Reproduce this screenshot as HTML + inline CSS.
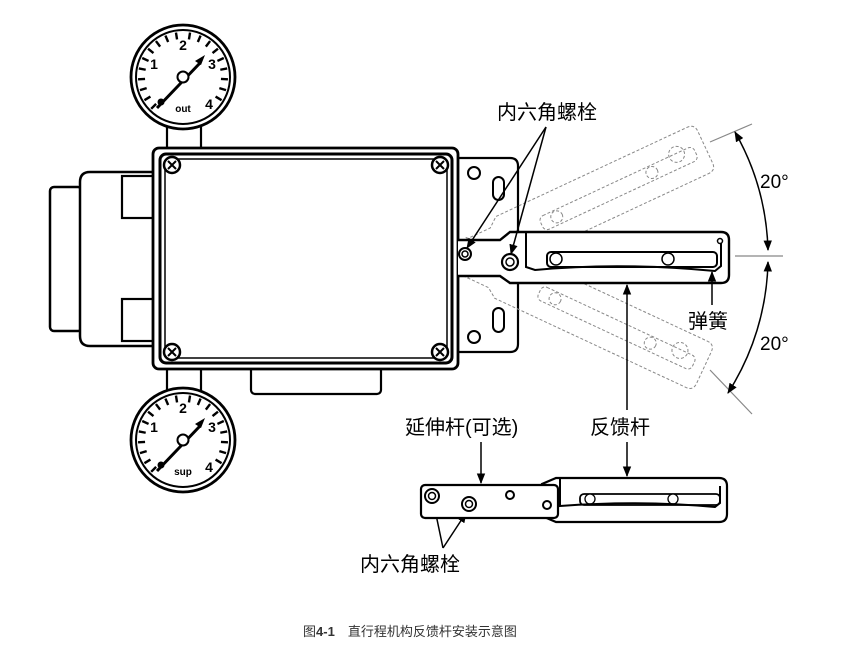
<!DOCTYPE html>
<html><head><meta charset="utf-8"><style>
html,body{margin:0;padding:0;background:#fff;}
svg{display:block;}
text{font-family:"Liberation Sans","Noto Sans CJK SC",sans-serif;}
</style></head><body>
<svg width="850" height="646" viewBox="0 0 850 646" xmlns="http://www.w3.org/2000/svg">
<defs>
<marker id="ar" viewBox="0 0 10 10" refX="9" refY="5" markerWidth="7" markerHeight="7" orient="auto-start-reverse"><path d="M0,1 L10,5 L0,9 z" fill="#000"/></marker>
<g id="ticks" stroke="#000" stroke-width="2.4">
<line x1="0" y1="-38" x2="0" y2="-45" transform="rotate(-135)"/>
<line x1="0" y1="-38" x2="0" y2="-45" transform="rotate(-121)"/>
<line x1="0" y1="-38" x2="0" y2="-45" transform="rotate(-107)"/>
<line x1="0" y1="-38" x2="0" y2="-45" transform="rotate(-93)"/>
<line x1="0" y1="-38" x2="0" y2="-45" transform="rotate(-79)"/>
<line x1="0" y1="-38" x2="0" y2="-45" transform="rotate(-65)"/>
<line x1="0" y1="-38" x2="0" y2="-45" transform="rotate(-51)"/>
<line x1="0" y1="-38" x2="0" y2="-45" transform="rotate(-37)"/>
<line x1="0" y1="-38" x2="0" y2="-45" transform="rotate(-23)"/>
<line x1="0" y1="-38" x2="0" y2="-45" transform="rotate(-9)"/>
<line x1="0" y1="-38" x2="0" y2="-45" transform="rotate(9)"/>
<line x1="0" y1="-38" x2="0" y2="-45" transform="rotate(23)"/>
<line x1="0" y1="-38" x2="0" y2="-45" transform="rotate(37)"/>
<line x1="0" y1="-38" x2="0" y2="-45" transform="rotate(51)"/>
<line x1="0" y1="-38" x2="0" y2="-45" transform="rotate(65)"/>
<line x1="0" y1="-38" x2="0" y2="-45" transform="rotate(79)"/>
<line x1="0" y1="-38" x2="0" y2="-45" transform="rotate(93)"/>
<line x1="0" y1="-38" x2="0" y2="-45" transform="rotate(107)"/>
<line x1="0" y1="-38" x2="0" y2="-45" transform="rotate(121)"/>
</g>
<g id="gauge">
<circle r="52" fill="#fff" stroke="#000" stroke-width="2.8"/>
<circle r="47" fill="none" stroke="#000" stroke-width="2"/>
<use href="#ticks"/>
<text x="0" y="-27" font-size="14" font-weight="bold" text-anchor="middle">2</text>
<text x="-29" y="-8" font-size="14" font-weight="bold" text-anchor="middle">1</text>
<text x="29" y="-8" font-size="14" font-weight="bold" text-anchor="middle">3</text>
<text x="26" y="32" font-size="14" font-weight="bold" text-anchor="middle">4</text>
<line x1="-26" y1="31" x2="17" y2="-14" stroke="#000" stroke-width="3"/>
<path d="M12,-16 l10,-6 l-4,10 z" fill="#000"/>
<circle cx="-22" cy="25" r="3.5" fill="#000"/>
<circle r="5.5" fill="#fff" stroke="#000" stroke-width="2"/>
</g>
<g id="ghost">
<path d="M458,240 H500 L510,232 H721 Q729,232 729,240 V275 Q729,283 721,283 H510 L500,276 H458"/>
<rect x="548" y="251" width="170" height="15" rx="5"/>
<circle cx="565" cy="258" r="6"/><circle cx="670" cy="258" r="6"/>
<circle cx="700" cy="252" r="8"/>
</g>
</defs>

<!-- left parts -->
<rect x="50" y="187" width="32" height="144" rx="4" fill="#fff" stroke="#000" stroke-width="2.5"/>
<path d="M155,172 H90 Q80,172 80,182 V336 Q80,346 90,346 H155" fill="#fff" stroke="#000" stroke-width="2.5"/>
<rect x="122" y="176" width="33" height="42" fill="#fff" stroke="#000" stroke-width="2.2"/>
<rect x="122" y="299" width="33" height="42" fill="#fff" stroke="#000" stroke-width="2.2"/>
<rect x="251" y="360" width="130" height="34" rx="4" fill="#fff" stroke="#000" stroke-width="2.2"/>

<!-- gauge stems -->
<rect x="167" y="125" width="34" height="25" fill="#fff" stroke="#000" stroke-width="2.2"/>
<rect x="167" y="366" width="34" height="25" fill="#fff" stroke="#000" stroke-width="2.2"/>
<use href="#gauge" transform="translate(183,77)"/>
<text x="183" y="112" font-size="10" font-weight="bold" text-anchor="middle">out</text>
<use href="#gauge" transform="translate(183,440)"/>
<text x="183" y="475" font-size="10" font-weight="bold" text-anchor="middle">sup</text>

<!-- bracket -->
<path d="M456,158 H510 Q518,158 518,166 V344 Q518,352 510,352 H456 Z" fill="#fff" stroke="#000" stroke-width="2.2"/>
<circle cx="474" cy="173" r="6" fill="none" stroke="#000" stroke-width="2"/>
<rect x="493" y="177" width="11" height="23" rx="5.5" fill="none" stroke="#000" stroke-width="2"/>
<circle cx="474" cy="337" r="6" fill="none" stroke="#000" stroke-width="2"/>
<rect x="493" y="308" width="11" height="24" rx="5.5" fill="none" stroke="#000" stroke-width="2"/>

<!-- ghost levers -->
<g fill="none" stroke="#888" stroke-width="1" stroke-dasharray="3,2">
<use href="#ghost" transform="rotate(-25 468 256)"/>
<use href="#ghost" transform="rotate(25 468 256)"/>
</g>

<!-- main body -->
<rect x="153" y="148" width="305" height="221" rx="6" fill="#fff" stroke="#000" stroke-width="2.8"/>
<rect x="160" y="154" width="292" height="209" rx="6" fill="none" stroke="#000" stroke-width="3"/>
<rect x="165" y="159" width="282" height="199" rx="4" fill="none" stroke="#000" stroke-width="1.5"/>
<g fill="#fff" stroke="#000" stroke-width="2.5">
<circle cx="172" cy="165" r="8"/><circle cx="440" cy="165" r="8"/>
<circle cx="172" cy="352" r="8"/><circle cx="440" cy="352" r="8"/>
</g>
<g stroke="#000" stroke-width="2">
<path d="M168,161 l8,8 M176,161 l-8,8"/><path d="M436,161 l8,8 M444,161 l-8,8"/>
<path d="M168,348 l8,8 M176,348 l-8,8"/><path d="M436,348 l8,8 M444,348 l-8,8"/>
</g>

<!-- main lever -->
<path d="M458,240 H500 L510,232 H721 Q729,232 729,240 V275 Q729,283 721,283 H510 L500,276 H458" fill="#fff" stroke="#000" stroke-width="2.4"/>
<rect x="547" y="252" width="170" height="15" rx="4" fill="#fff" stroke="#000" stroke-width="2"/>
<circle cx="556" cy="259" r="6" fill="#fff" stroke="#000" stroke-width="1.5"/>
<circle cx="668" cy="259" r="6" fill="#fff" stroke="#000" stroke-width="1.5"/>
<path d="M526,231 V267 L535,270 Q620,262 715,271 L721,266 V240" fill="none" stroke="#000" stroke-width="2"/>
<circle cx="720" cy="241" r="2.5" fill="#fff" stroke="#000" stroke-width="1.5"/>
<circle cx="465" cy="254" r="6" fill="#fff" stroke="#000" stroke-width="2"/>
<circle cx="465" cy="254" r="3" fill="none" stroke="#000" stroke-width="1.5"/>
<circle cx="510" cy="262" r="8" fill="#fff" stroke="#000" stroke-width="2.2"/>
<circle cx="510" cy="262" r="4" fill="none" stroke="#000" stroke-width="1.5"/>

<!-- dimension -->
<g stroke="#888" stroke-width="1.2" fill="none">
<line x1="710" y1="142" x2="752" y2="124"/>
<line x1="735" y1="256" x2="783" y2="256"/>
<line x1="710" y1="370" x2="752" y2="414"/>
</g>
<g stroke="#000" stroke-width="1.5" fill="none">
<path d="M735,132 A253,253 0 0 1 768,250" marker-start="url(#ar)" marker-end="url(#ar)"/>
<path d="M768,262 A253,253 0 0 1 728,393" marker-start="url(#ar)" marker-end="url(#ar)"/>
</g>
<text x="760" y="188" font-size="19">20°</text>
<text x="760" y="350" font-size="19">20°</text>

<!-- labels -->
<text x="497" y="119" font-size="20">内六角螺栓</text>
<g stroke="#000" stroke-width="1.5" fill="none">
<line x1="546" y1="127" x2="467" y2="248" marker-end="url(#ar)"/>
<line x1="546" y1="127" x2="511" y2="254" marker-end="url(#ar)"/>
<line x1="712" y1="305" x2="712" y2="272" marker-end="url(#ar)"/>
<line x1="627" y1="410" x2="627" y2="285" marker-end="url(#ar)"/>
<line x1="627" y1="442" x2="627" y2="476" marker-end="url(#ar)"/>
<line x1="481" y1="442" x2="481" y2="483" marker-end="url(#ar)"/>
<line x1="443" y1="548" x2="434" y2="505" marker-end="url(#ar)"/>
<line x1="443" y1="548" x2="466" y2="513" marker-end="url(#ar)"/>
</g>
<text x="688" y="328" font-size="20">弹簧</text>
<text x="405" y="434" font-size="20">延伸杆(可选)</text>
<text x="590" y="434" font-size="20">反馈杆</text>
<text x="360" y="571" font-size="20">内六角螺栓</text>

<!-- bottom lever -->
<path d="M556,478 H719 Q727,478 727,486 V514 Q727,522 719,522 H556 L542,516 V484 Z" fill="#fff" stroke="#000" stroke-width="2.2"/>
<rect x="421" y="485" width="137" height="33" rx="4" fill="#fff" stroke="#000" stroke-width="2.2"/>
<rect x="580" y="494" width="140" height="11" rx="4" fill="none" stroke="#000" stroke-width="1.8"/>
<circle cx="590" cy="499" r="5" fill="#fff" stroke="#000" stroke-width="1.3"/>
<circle cx="673" cy="499" r="5" fill="#fff" stroke="#000" stroke-width="1.3"/>
<path d="M560,477 V506 Q640,500 715,507 L720,503 V486" fill="none" stroke="#000" stroke-width="2"/>
<circle cx="432" cy="496" r="7" fill="#fff" stroke="#000" stroke-width="2"/>
<circle cx="432" cy="496" r="3.5" fill="none" stroke="#000" stroke-width="1.5"/>
<circle cx="469" cy="504" r="7" fill="#fff" stroke="#000" stroke-width="2"/>
<circle cx="469" cy="504" r="3.5" fill="none" stroke="#000" stroke-width="1.5"/>
<circle cx="510" cy="495" r="4" fill="none" stroke="#000" stroke-width="2"/>
<circle cx="547" cy="505" r="4" fill="none" stroke="#000" stroke-width="2"/>

<text x="303" y="636" font-size="13" fill="#333">图<tspan font-weight="bold">4-1</tspan>　直行程机构反馈杆安装示意图</text>
</svg>
</body></html>
